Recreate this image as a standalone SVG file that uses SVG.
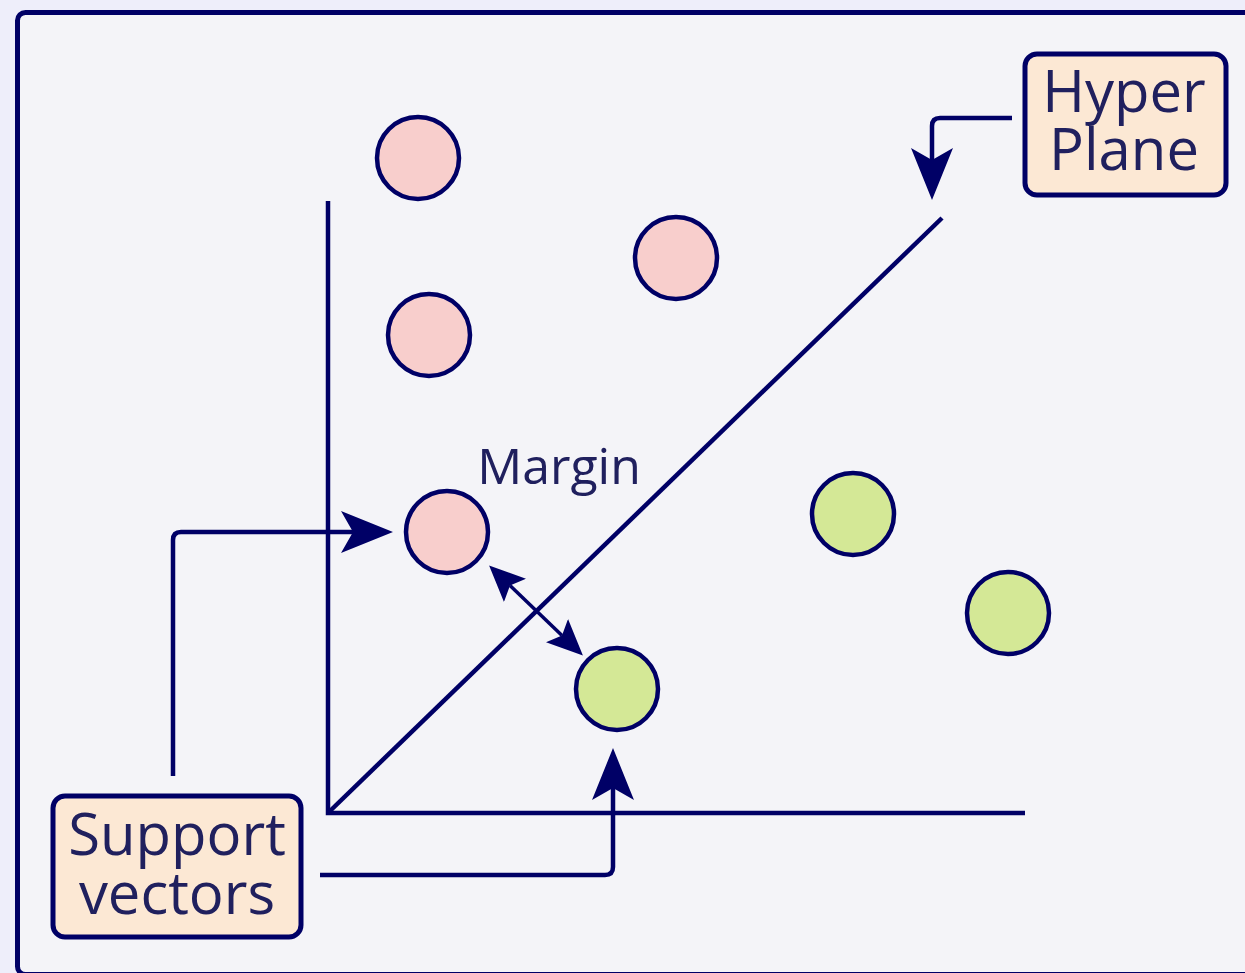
<svg xmlns="http://www.w3.org/2000/svg" width="1245" height="973" viewBox="0 0 1245 973">
<style>
.frame{fill:#F4F4F8;stroke:#000066;stroke-width:5}
.box{fill:#FCE8D4;stroke:#000066;stroke-width:5}
.pink{fill:#F8CECC;stroke:#000066;stroke-width:4.5}
.green{fill:#D4E896;stroke:#000066;stroke-width:4.5}
.ln{fill:none;stroke:#000066;stroke-width:4.5}
.thin{fill:none;stroke:#000066;stroke-width:3.5}
.lbl{font-family:"Open Sans","Noto Sans",sans-serif;fill:#20205E;text-anchor:middle}
</style>
<defs>
<marker id="big" markerUnits="userSpaceOnUse" viewBox="0 -22 54 44" markerWidth="54" markerHeight="44" refX="12" refY="0" orient="auto">
<path d="M52,0 L0,-21 L12,0 L0,21 Z" fill="#000066"/>
</marker>
<marker id="sm" markerUnits="userSpaceOnUse" viewBox="0 -17 38 34" markerWidth="38" markerHeight="34" refX="7" refY="0" orient="auto">
<path d="M36,0 L0,-16 L7,0 L0,16 Z" fill="#000066"/>
</marker>
<marker id="smS" markerUnits="userSpaceOnUse" viewBox="0 -17 38 34" markerWidth="38" markerHeight="34" refX="7" refY="0" orient="auto-start-reverse">
<path d="M36,0 L0,-16 L7,0 L0,16 Z" fill="#000066"/>
</marker>
</defs>
<rect x="0" y="0" width="1245" height="973" fill="#EEEEFA"/>
<rect class="frame" x="17.5" y="12.5" width="1260" height="962" rx="8"/>
<g id="axes">
<path class="ln" d="M328,201 L328,813 L1025,813"/>
</g>
<g id="hyperplane-line">
<path class="ln" d="M330,811 L942,218"/>
</g>
<g id="c1"><circle class="pink" cx="418" cy="158" r="41"/></g>
<g id="c2"><circle class="pink" cx="676" cy="258" r="41"/></g>
<g id="c3"><circle class="pink" cx="429" cy="335" r="41"/></g>
<g id="c4"><circle class="pink" cx="447" cy="532" r="41"/></g>
<g id="c5"><circle class="green" cx="853" cy="514" r="41"/></g>
<g id="c6"><circle class="green" cx="1008" cy="613" r="41"/></g>
<g id="c7"><circle class="green" cx="617" cy="689" r="41"/></g>
<g id="hyper-plane">
<rect class="box" x="1025" y="54" width="201" height="141" rx="12"/>
<text class="lbl" font-size="58" x="1124" y="112">Hyper</text>
<text class="lbl" font-size="58" x="1124" y="170">Plane</text>
</g>
<g id="support-vectors">
<rect class="box" x="53" y="796" width="248" height="141" rx="12"/>
<text class="lbl" font-size="58" x="177" y="855">Support</text>
<text class="lbl" font-size="58" x="177" y="914">vectors</text>
</g>
<g id="margin">
<text class="lbl" font-size="50" x="559" y="484">Margin</text>
</g>
<g id="connectors">
<path class="ln" d="M1012,118 L940,118 Q932,118 932,126 L932,160" marker-end="url(#big)"/>
<path class="ln" d="M173,776 L173,540 Q173,532 181,532 L353,532" marker-end="url(#big)"/>
<path class="ln" d="M320,875 L605,875 Q613,875 613,867 L613,788" marker-end="url(#big)"/>
<path class="thin" d="M510,585.5 L562,635.5" marker-start="url(#smS)" marker-end="url(#sm)"/>
</g>
</svg>
